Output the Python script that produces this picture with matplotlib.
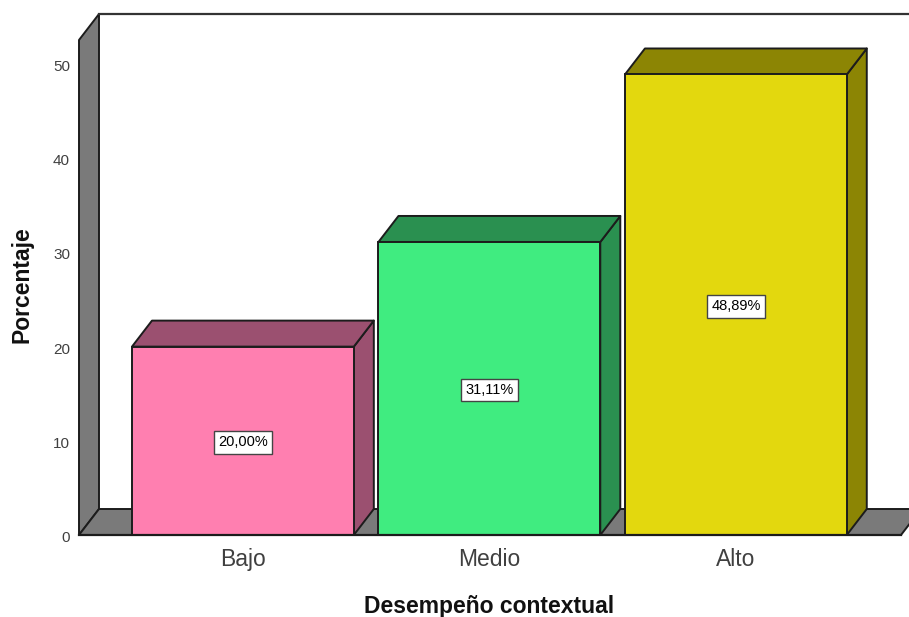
import matplotlib
matplotlib.use('Agg')
import matplotlib.pyplot as plt
from matplotlib.patches import Polygon
from matplotlib.transforms import ScaledTranslation

plt.rcParams['font.family'] = ['Liberation Sans', 'DejaVu Sans']

categories = ['Bajo', 'Medio', 'Alto']
values = [20.00, 31.11, 48.89]
labels = ['20,00%', '31,11%', '48,89%']
y_ticks = [0, 10, 20, 30, 40, 50]

front_colors = ['#FF7FB0', '#40EC80', '#E3D80E']
dark_colors = ['#9B5070', '#2A9050', '#8C8504']
wall_color = '#7A7A7A'
edge = '#1c1c1c'

W, H = 909, 617
fig = plt.figure(figsize=(W / 100, H / 100), dpi=100, facecolor='white')
# axes box is the front plane of the 3d frame
left, right, bottom, top = 79, 901, 535, 40
ax = fig.add_axes([left / W, 1 - bottom / H, (right - left) / W, (bottom - top) / H])
ax.set_xlim(-0.665, 2.67)
ax.set_ylim(0, 52.55)
ax.patch.set_alpha(0)
for s in ax.spines.values():
    s.set_visible(False)

# depth of the 3d effect in data units
dx = 20 / 246.5
dy = 26 / 9.42
x0, x1 = ax.get_xlim()
y1 = ax.get_ylim()[1]


def poly(pts, color, z=1, lw=1.4):
    ax.add_patch(Polygon(pts, closed=True, facecolor=color, edgecolor=edge, linewidth=lw,
                         joinstyle='round', clip_on=False, zorder=z))


# walls
poly([(x0, 0), (x0 + dx, dy), (x0 + dx, y1 + dy), (x0, y1)], wall_color)
poly([(x0, 0), (x0 + dx, dy), (x1 + dx, dy), (x1, 0)], wall_color)
ax.plot([x0 + dx, x1 + dx], [y1 + dy, y1 + dy], color='#333333', lw=1.6, clip_on=False, zorder=1)

# bars
width = 0.9
for i, v in enumerate(values):
    l, r = i - width / 2, i + width / 2
    poly([(r, 0), (r + dx, dy), (r + dx, v + dy), (r, v)], dark_colors[i], z=3)
    poly([(l, v), (l + dx, v + dy), (r + dx, v + dy), (r, v)], dark_colors[i], z=3)
ax.bar(range(3), values, width=width, color=front_colors, edgecolor=edge, linewidth=1.4, zorder=4, clip_on=False)
ax.plot([x0, x1], [0, 0], color=edge, lw=1.6, clip_on=False, zorder=5)

# small nudge so the text sits where it does in the original
nudge = ScaledTranslation(0, -1.5 / 100, fig.dpi_scale_trans)

for i, v in enumerate(values):
    ax.text(i, v / 2, labels[i], ha='center', va='center', fontsize=10.5, color='black', zorder=6,
            transform=ax.transData + nudge,
            bbox=dict(boxstyle='square,pad=0.3', facecolor='white', edgecolor='#444444', linewidth=1))

ax.set_xticks(range(3))
ax.set_xticklabels(categories, fontsize=16.5, color='#404040')
ax.set_yticks(y_ticks)
ax.tick_params(axis='x', length=0, pad=9.5)
ax.tick_params(axis='y', length=0, pad=6.5, labelsize=11, labelcolor='#404040')
for t in ax.get_yticklabels():
    t.set_transform(t.get_transform() + nudge)

fig.text(22 / W, 1 - 285 / H, 'Porcentaje', rotation=90, ha='center', va='center',
         fontsize=16.5, fontweight='bold', color='#111111')
fig.text(489 / W, 1 - 606 / H, 'Desempeño contextual', ha='center', va='center',
         fontsize=16.5, fontweight='bold', color='#111111')

fig.savefig('out.png', dpi=100)
